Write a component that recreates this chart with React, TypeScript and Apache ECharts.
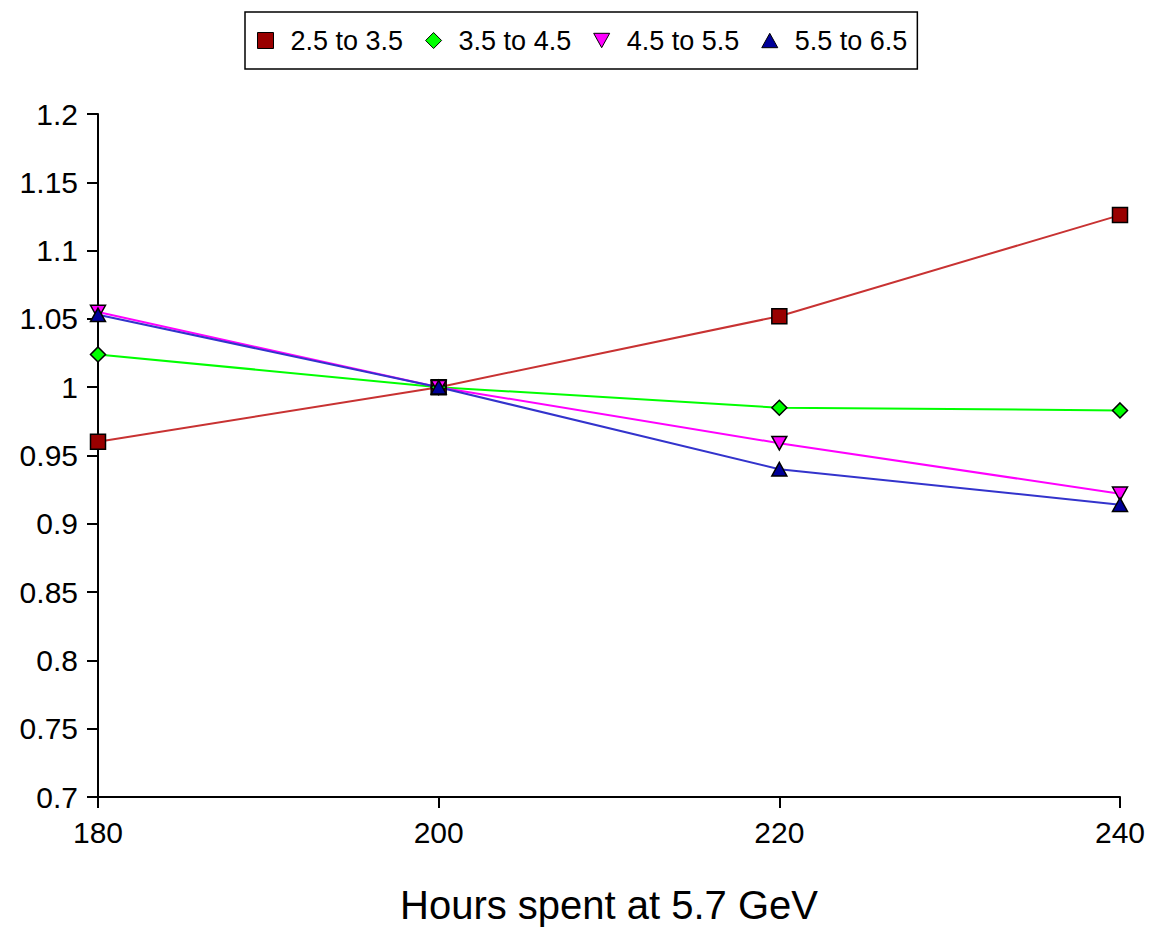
import React, { useEffect, useRef } from "react";
import * as echarts from "echarts";

// Hours spent at 5.7 GeV (x) and the relative yield for each bin
const hours = [180, 200, 220, 240];
const binNames = ["2.5 to 3.5", "3.5 to 4.5", "4.5 to 5.5", "5.5 to 6.5"];
const bin25to35 = [0.96, 1.0, 1.052, 1.126];
const bin35to45 = [1.024, 1.0, 0.985, 0.983];
const bin45to55 = [1.055, 1.0, 0.959, 0.922];
const bin55to65 = [1.053, 1.0, 0.94, 0.914];
const yTicks = { min: 0.7, max: 1.2, step: 0.05 };

const downTriangle = "path://M0,0 L10,0 L5,9 Z";
const upTriangle = "path://M5,0 L10,9 L0,9 Z";

const FONT = "Liberation Sans, Arial, sans-serif";

export default function App() {
  const ref = useRef<HTMLDivElement>(null);

  useEffect(() => {
    if (!ref.current) return;
    const chart = echarts.init(ref.current, undefined, { renderer: "svg" });

    const seriesDefs = [
      { name: binNames[0], values: bin25to35, symbol: "rect", size: 15, fill: "#990000", line: "#c83232" },
      { name: binNames[1], values: bin35to45, symbol: "diamond", size: 15, fill: "#00ff00", line: "#00ff00" },
      { name: binNames[2], values: bin45to55, symbol: downTriangle, size: 15, fill: "#ff00ff", line: "#ff00ff" },
      { name: binNames[3], values: bin55to65, symbol: upTriangle, size: 15, fill: "#000099", line: "#3333cc" },
    ];

    chart.setOption({
      animation: false,
      backgroundColor: "#ffffff",
      textStyle: { fontFamily: FONT, color: "#000" },
      legend: {
        left: 245,
        top: 12,
        orient: "horizontal",
        borderColor: "#000",
        borderWidth: 1.5,
        padding: [15, 10, 15, 12],
        itemWidth: 16,
        itemHeight: 16,
        itemGap: 22,
        textStyle: { fontSize: 27, fontFamily: FONT, color: "#000", padding: [0, 0, 0, 12] },
        data: seriesDefs.map((s) => ({
          name: s.name,
          icon: s.symbol,
          itemStyle: { color: s.fill, borderColor: "#000", borderWidth: 1 },
        })),
      },
      grid: { left: 98, right: 45, top: 114, bottom: 135 },
      xAxis: {
        type: "value",
        min: 180,
        max: 240,
        interval: 20,
        name: "Hours spent at 5.7 GeV",
        nameLocation: "middle",
        nameGap: 88,
        nameTextStyle: { fontSize: 40, fontFamily: FONT, color: "#000" },
        axisLine: { show: true, onZero: false, lineStyle: { color: "#000", width: 2 } },
        axisTick: { show: true, length: 11, lineStyle: { color: "#000", width: 2 } },
        axisLabel: { fontSize: 30, fontFamily: FONT, color: "#000", margin: 20 },
        splitLine: { show: false },
      },
      yAxis: {
        type: "value",
        min: yTicks.min,
        max: yTicks.max,
        interval: yTicks.step,
        axisLine: { show: true, lineStyle: { color: "#000", width: 2 } },
        axisTick: { show: true, length: 11, lineStyle: { color: "#000", width: 2 } },
        axisLabel: { fontSize: 30, fontFamily: FONT, color: "#000", margin: 20 },
        splitLine: { show: false },
      },
      series: seriesDefs.map((s) => ({
        name: s.name,
        type: "line",
        data: hours.map((h, i) => [h, s.values[i]]),
        symbol: s.symbol,
        symbolSize: s.size,
        symbolKeepAspect: true,
        showAllSymbol: true,
        lineStyle: { color: s.line, width: 2 },
        itemStyle: { color: s.fill, borderColor: "#000", borderWidth: 1.5 },
        emphasis: { disabled: true },
      })),
    });

    return () => chart.dispose();
  }, []);

  return (
    <div
      ref={ref}
      style={{ position: "fixed", left: 0, top: 0, width: 1165, height: 932 }}
    />
  );
}
